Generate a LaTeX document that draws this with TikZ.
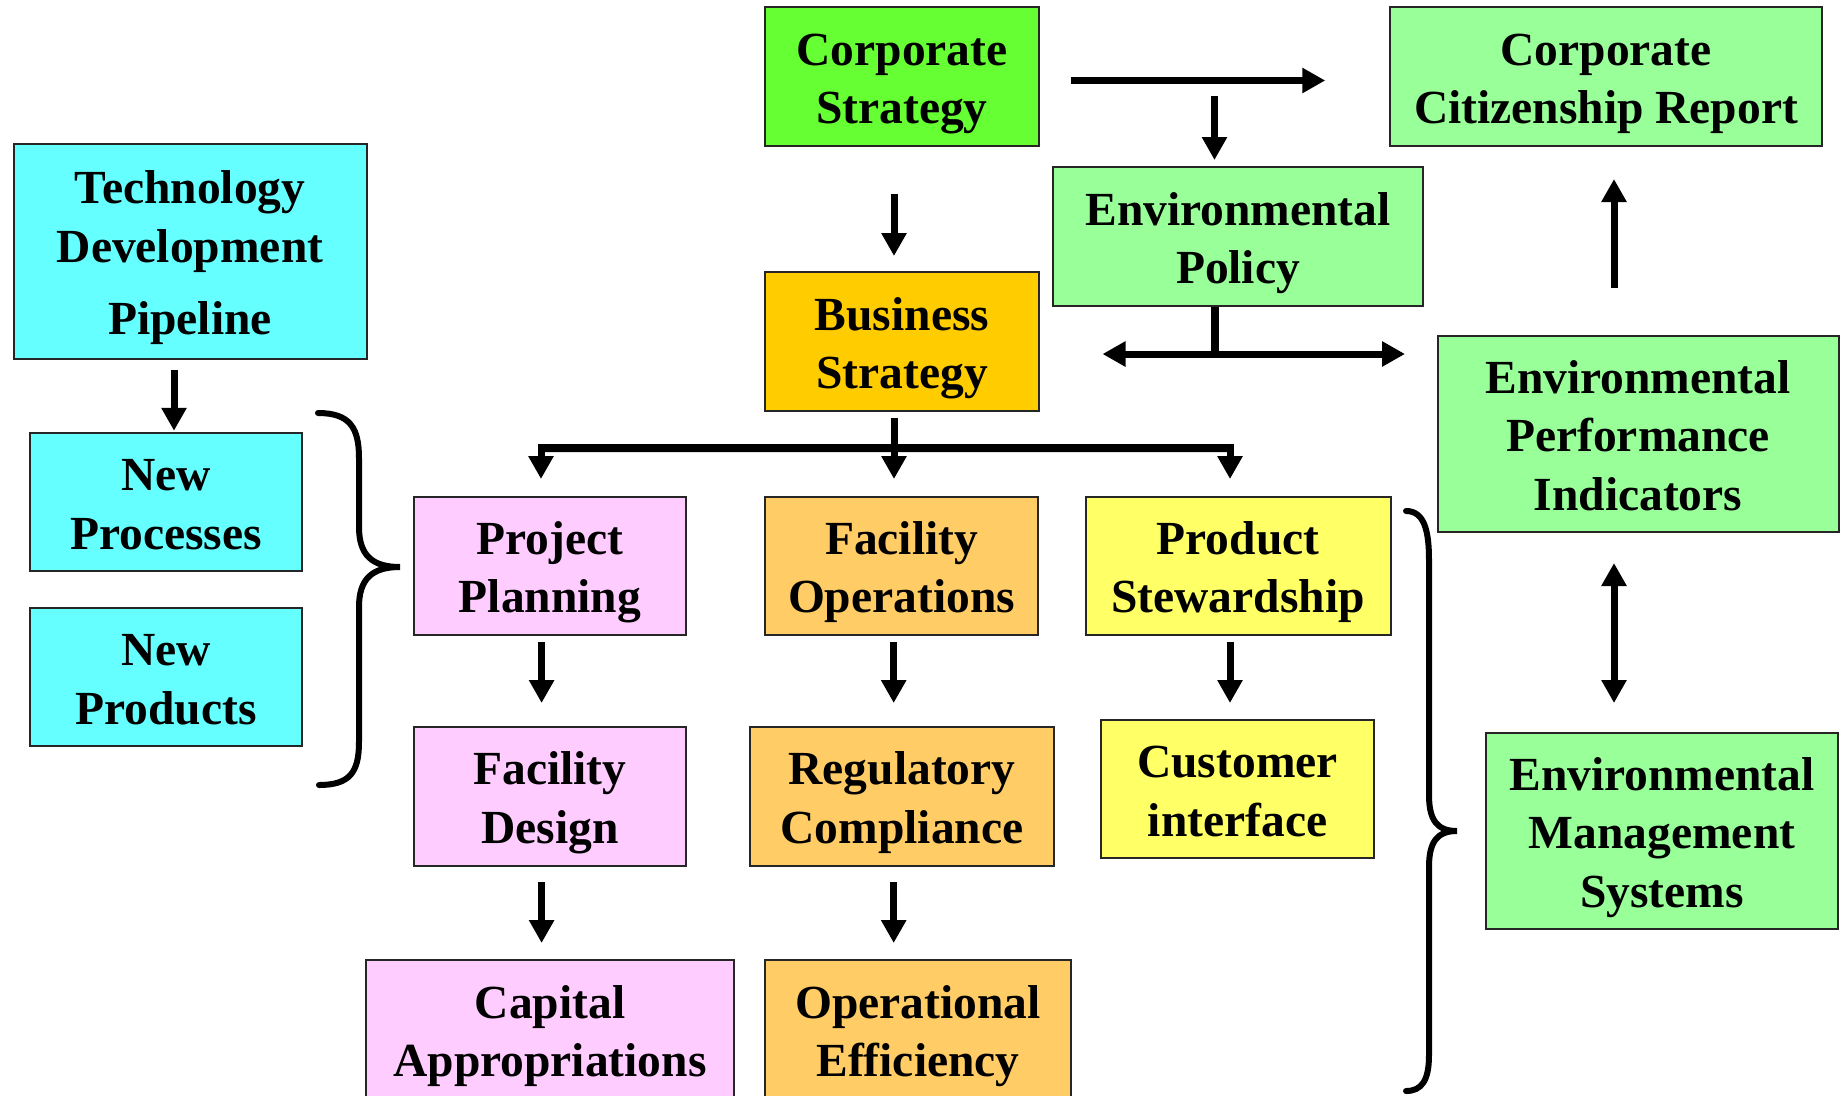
\documentclass[tikz,border=0pt]{standalone}
\usepackage{fontspec}
\setmainfont{Liberation Serif}
\usetikzlibrary{arrows.meta,calc}
\definecolor{cgreen}{HTML}{66FF33}
\definecolor{lgreen}{HTML}{99FF99}
\definecolor{ccyan}{HTML}{66FFFF}
\definecolor{cgold}{HTML}{FFCC00}
\definecolor{cpink}{HTML}{FFCCFF}
\definecolor{corange}{HTML}{FFCC66}
\definecolor{cyellow}{HTML}{FFFF66}
\newcommand{\boxtoptrut}{\rule{0pt}{19pt}}
\newcommand{\boxbotstrut}{\rule[-4.8pt]{0pt}{4.8pt}}
\begin{document}
\begin{tikzpicture}[x=0.4pt,y=-0.4pt,
 box/.style={draw=black!85, line width=0.8pt, inner sep=0pt, align=center,
   font=\fontsize{19}{23.4}\selectfont\bfseries},
 sz/.style n args={2}{minimum width=#1*0.4pt, minimum height=#2*0.4pt},
 arr/.style={line width=2.8pt, -{Triangle[width=9.6pt,length=9.2pt]}},
 darr/.style={line width=2.8pt, {Triangle[width=9.6pt,length=9.2pt]}-{Triangle[width=9.6pt,length=9.2pt]}},
 barline/.style={line width=3.2pt},
 brc/.style={line width=2.4pt, line cap=round}]
\clip (0,0) rectangle (1847,1095);
\fill[white] (0,0) rectangle (1847,1095);

% nodes
\node[box,sz={273.5}{139},fill=cgreen] (cs) at (902,76.5) {\boxtoptrut Corporate\\Strategy\boxbotstrut};
\node[box,sz={432.5}{139},fill=lgreen] (ccr) at (1606,76.5) {\boxtoptrut Corporate\\Citizenship Report\boxbotstrut};
\node[box,sz={353}{215},fill=ccyan] (td) at (190,251.5) {\boxtoptrut Technology\\Development\\[5.6pt]Pipeline\boxbotstrut};
\node[box,sz={369.5}{139},fill=lgreen] (ep) at (1238,236.5) {\boxtoptrut Environmental\\Policy\boxbotstrut};
\node[box,sz={273.5}{139},fill=cgold] (bs) at (902,341.5) {\boxtoptrut Business\\Strategy\boxbotstrut};
\node[box,sz={401}{196},fill=lgreen] (epi) at (1638,434) {\boxtoptrut Environmental\\Performance\\Indicators\boxbotstrut};
\node[box,sz={272.5}{137.5},fill=ccyan] (np) at (166,502) {\boxtoptrut New\\Processes\boxbotstrut};
\node[box,sz={272.5}{137.5},fill=ccyan] (nprod) at (166,677) {\boxtoptrut New\\Products\boxbotstrut};
\node[box,sz={272}{138},fill=cpink] (pp) at (550,565.5) {\boxtoptrut Project\\Planning\boxbotstrut};
\node[box,sz={273}{138},fill=corange] (fo) at (901.5,565.5) {\boxtoptrut Facility\\Operations\boxbotstrut};
\node[box,sz={305}{138.5},fill=cyellow] (ps) at (1238,565.8) {\boxtoptrut Product\\Stewardship\boxbotstrut};
\node[box,sz={272}{138.6},fill=cpink] (fd) at (550,796.3) {\boxtoptrut Facility\\Design\boxbotstrut};
\node[box,sz={303.7}{138.6},fill=corange] (rc) at (902,796.3) {\boxtoptrut Regulatory\\Compliance\boxbotstrut};
\node[box,sz={273}{138.4},fill=cyellow] (ci) at (1237.5,789.2) {\boxtoptrut Customer\\interface\boxbotstrut};
\node[box,sz={352}{196},fill=lgreen] (ems) at (1662,831) {\boxtoptrut Environmental\\Management\\Systems\boxbotstrut};
\node[box,sz={368}{139},fill=cpink] (ca) at (550,1029.5) {\boxtoptrut Capital\\Appropriations\boxbotstrut};
\node[box,sz={305.5}{139},fill=corange] (oe) at (918,1029.5) {\boxtoptrut Operational\\Efficiency\boxbotstrut};

% connectors
\draw[arr] ($(cs.east)+(31,4)$) -- ($(ccr.west)+(-63.5,4)$);
\draw[arr] ($(ep.north)+(-23.5,-70)$) -- ($(ep.north)+(-23.5,-6)$);
\draw[arr] ($(cs.south)+(-8,47)$) -- ($(bs.north)+(-8,-15)$);
\draw[arr] ($(td.south)+(-16,10)$) -- ($(np.north)+(8,-1.5)$);
\coordinate (epj) at ($(ep.south)+(-23.5,47)$);
\draw[barline] ($(ep.south)+(-23.5,0)$) -- (epj);
\draw[darr] ($(epj)+(-112,0)$) -- ($(epj)+(190.5,0)$);
\draw[arr] ($(epi.north)+(-24,-47.4)$) -- ($(ccr.south)+(8,32)$);

\coordinate (bl) at ($(pp.north)+(-9,-47.5)$);
\coordinate (br) at ($(ps.north)+(-8,-47.5)$);
\draw[barline] (bl) -- (br);
\draw[arr] ($(bs.south)+(-8,6)$) -- ($(fo.north)+(-7.5,-16.5)$);
\draw[arr] ($(bl)+(0,-4)$) -- ($(pp.north)+(-9,-16.5)$);
\draw[arr] ($(br)+(0,-4)$) -- ($(ps.north)+(-8,-16.5)$);

\draw[arr] ($(pp.south)+(-8.4,6)$) -- ($(fd.north)+(-8.4,-23)$);
\draw[arr] ($(fo.south)+(-7.8,6)$) -- ($(rc.north)+(-8.3,-23)$);
\draw[arr] ($(fd.south)+(-8.4,15.4)$) -- ($(ca.north)+(-8.4,-16)$);
\draw[arr] ($(rc.south)+(-8.3,15.4)$) -- ($(oe.north)+(-24.3,-16)$);
\draw[arr] ($(ps.south)+(-8,6)$) -- ($(ci.north)+(-7.5,-16)$);
\draw[darr] ($(epi.south)+(-24,30)$) -- ($(ems.north)+(-48,-29)$);

% braces
\draw[brc] (318,413) .. controls (350,413) and (359,428) .. (359,458) -- (359,527)
  .. controls (359,555) and (372,567) .. (400,567)
  .. controls (372,567) and (359,579) .. (359,607) -- (359,742)
  .. controls (359,772) and (350,785) .. (319,785);
\draw[brc] (1406,511) .. controls (1424,511) and (1429,530) .. (1429,560) -- (1429,795)
  .. controls (1429,820) and (1437,831) .. (1457,831)
  .. controls (1437,831) and (1429,842) .. (1429,867) -- (1429,1055)
  .. controls (1429,1080) and (1422,1091) .. (1406,1091);
\end{tikzpicture}
\end{document}
